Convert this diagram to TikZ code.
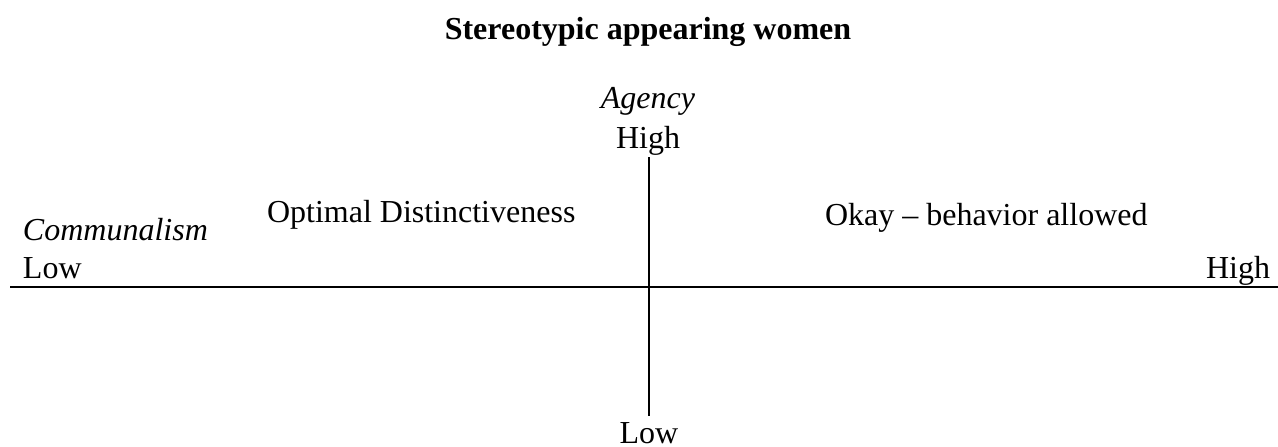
\documentclass[tikz,border=0pt]{standalone}
\usepackage{fontspec}
\setmainfont{Liberation Serif}
\begin{document}
\begin{tikzpicture}[x=1pt,y=-1pt,
  lbl/.style={inner sep=0pt,outer sep=0pt,font=\fontsize{32}{38}\selectfont},
  axis/.style={line width=2pt}]
\useasboundingbox (0,0) rectangle (1278,447);
% title
\node[lbl,anchor=base,font=\fontsize{32}{38}\selectfont\bfseries] (title) at (648,39) {Stereotypic appearing women};
% vertical axis labels
\node[lbl,anchor=base,font=\fontsize{32}{38}\selectfont\itshape] (agency) at (648,108) {Agency};
\node[lbl,anchor=base] (vhigh) at (648,148) {High};
\node[lbl,anchor=base] (vlow) at (649,443) {Low};
% horizontal axis labels
\node[lbl,anchor=base west,font=\fontsize{32}{38}\selectfont\itshape] (comm) at (23,240) {Communalism};
\node[lbl,anchor=base west] (hlow) at (23,278) {Low};
\node[lbl,anchor=base east] (hhigh) at (1270,278) {High};
% quadrant labels
\node[lbl,anchor=base west] (optimal) at (267,222) {Optimal Distinctiveness};
\node[lbl,anchor=base west] (okay) at (825,225) {Okay -- behavior allowed};
% axes
\coordinate (hleft) at (10,287);
\coordinate (hright) at (1278,287);
\coordinate (vtop) at (649,157);
\coordinate (vbot) at (649,416);
\draw[axis] (hleft) -- (hright);
\draw[axis] (vtop) -- (vbot);
\end{tikzpicture}
\end{document}
